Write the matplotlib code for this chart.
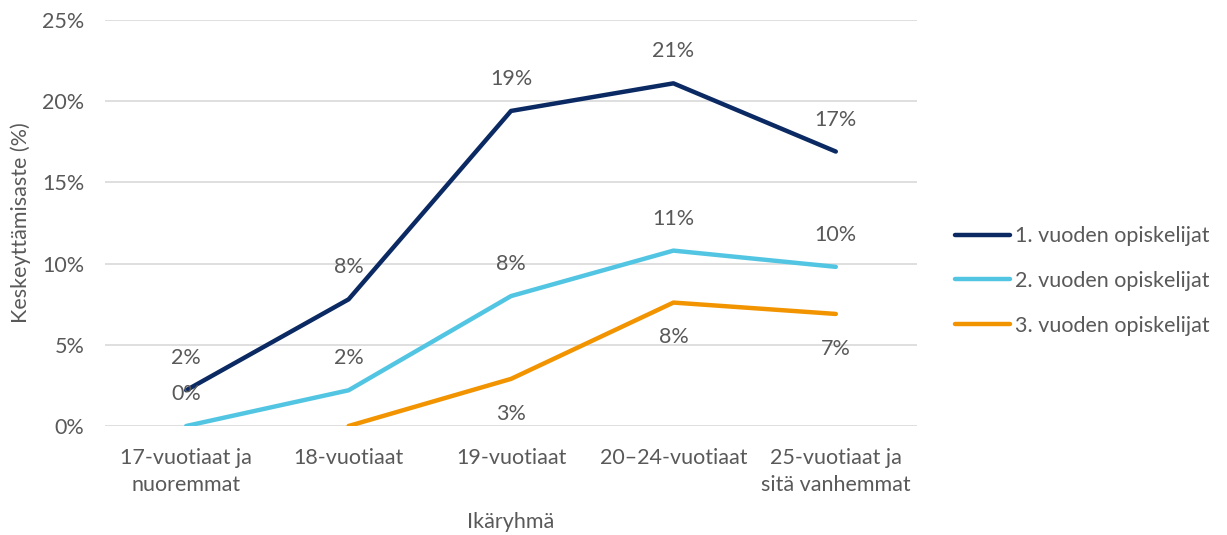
import numpy as np
import matplotlib.pyplot as plt

plt.rcParams['font.family'] = ['Lato', 'DejaVu Sans']

categories = ['17-vuotiaat ja\nnuoremmat', '18-vuotiaat', '19-vuotiaat',
              '20–24-vuotiaat', '25-vuotiaat ja\nsitä vanhemmat']
series_names = ['1. vuoden opiskelijat', '2. vuoden opiskelijat', '3. vuoden opiskelijat']
vuosi1 = [2.2, 7.8, 19.4, 21.1, 16.9]
vuosi2 = [0.0, 2.2, 8.0, 10.8, 9.8]
vuosi3 = [np.nan, 0.0, 2.9, 7.6, 6.9]
yticks = [0, 5, 10, 15, 20, 25]

colors = ['#0B2A63', '#52C5E3', '#F29400']
text_col = '#595959'
fs = 15.5

fig = plt.figure(figsize=(12.27, 5.35), dpi=100)
ax = fig.add_axes([105 / 1227, 109 / 535, 812 / 1227, 406 / 535])

x = np.arange(len(categories))
all_series = [vuosi1, vuosi2, vuosi3]
offsets = [23, 23, -25]  # label offset in points (above / below)
for vals, name, c, off in zip(all_series, series_names, colors, offsets):
    ax.plot(x, vals, color=c, lw=3.2, solid_capstyle='round', label=name)
    for xi, v in zip(x, vals):
        if np.isnan(v):
            continue
        if off < 0 and v == 0:
            continue
        ax.annotate(f'{v:.0f}%', (xi, v), xytext=(0, off), textcoords='offset points',
                    ha='center', va='center', fontsize=fs, color=text_col)

ax.set_xlim(-0.5, len(categories) - 0.5)
ax.set_ylim(0, 25)
ax.set_yticks(yticks)
ax.set_yticklabels([f'{t}%' for t in yticks])
ax.set_xticks(x)
ax.set_xticklabels(categories, linespacing=1.45)
ax.grid(axis='y', color='#D9D9D9', lw=1.2)
ax.set_axisbelow(True)
for s in ax.spines.values():
    s.set_visible(False)
ax.tick_params(axis='both', length=0, labelsize=fs, labelcolor=text_col)
ax.tick_params(axis='y', pad=15)
ax.tick_params(axis='x', pad=16)
ax.set_xlabel('Ikäryhmä', fontsize=fs, color=text_col, labelpad=12)
ax.set_ylabel('Keskeyttämisaste (%)', fontsize=fs, color=text_col, labelpad=8)

fig.legend(loc='center left', bbox_to_anchor=(955 / 1227, 1 - 281 / 535), frameon=False,
           borderaxespad=0, borderpad=0,
           fontsize=fs, labelcolor=text_col, handlelength=2.55, handletextpad=0.25,
           labelspacing=1.15)

fig.savefig('out.png', dpi=100)
